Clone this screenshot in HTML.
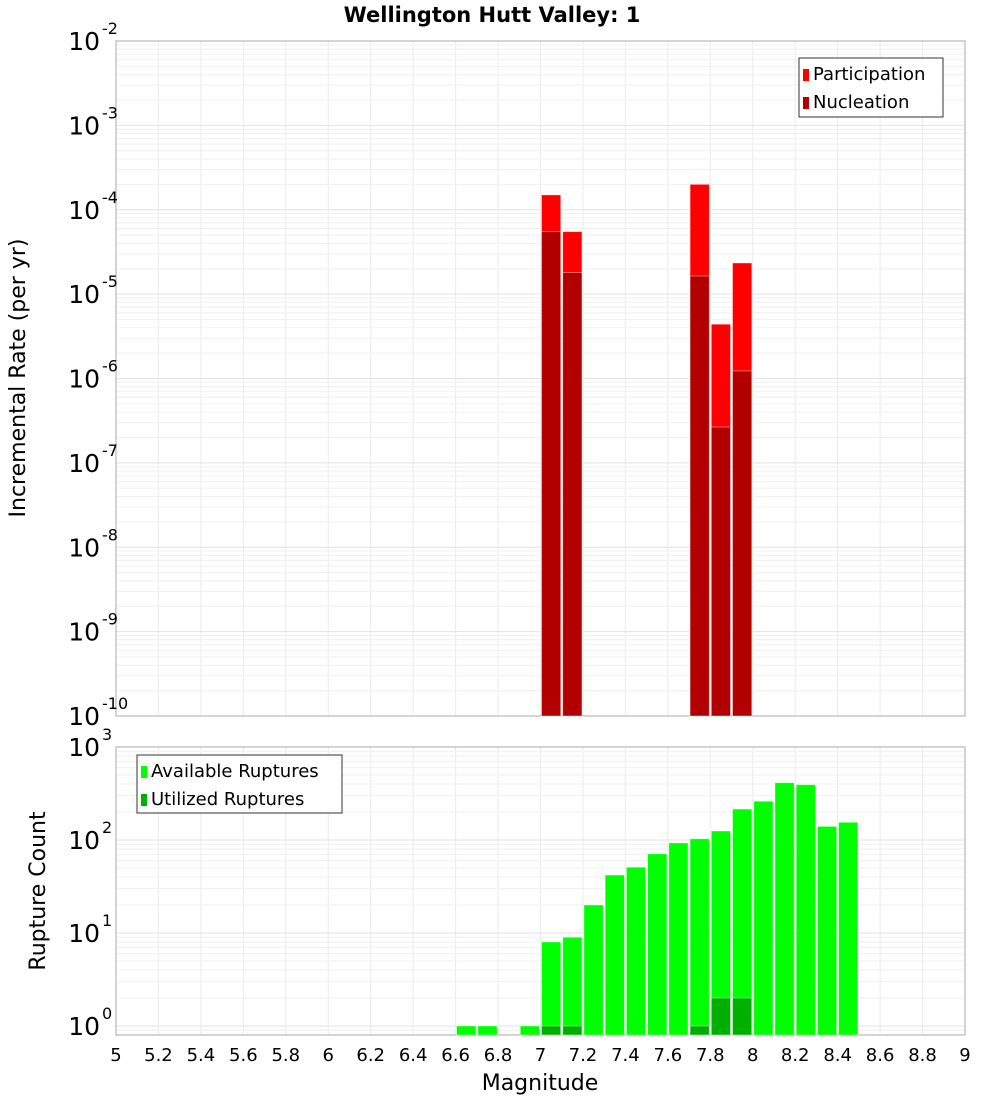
<!DOCTYPE html>
<html><head><meta charset="utf-8"><style>
body{margin:0;background:#fff;font-family:"Liberation Sans","DejaVu Sans",sans-serif}
svg text{font-family:"DejaVu Sans","Liberation Sans",sans-serif}
</style></head><body>
<svg id="chart" width="1000" height="1100" xmlns="http://www.w3.org/2000/svg">
<rect width="1000" height="1100" fill="#fff"/>
<text x="492" y="22" text-anchor="middle" font-size="21" font-weight="bold">Wellington Hutt Valley: 1</text>
<g id="topg"></g><g id="botg"></g>
</svg>
<script>
const bins=[6.65,6.75,6.95,7.05,7.15,7.25,7.35,7.45,7.55,7.65,7.75,7.85,7.95,8.05,8.15,8.25,8.35,8.45];
const rateBins=[7.05,7.15,7.75,7.85,7.95];
const participation=[1.5e-4,5.5e-5,2.0e-4,4.4e-6,2.34e-5];
const nucleation=[5.5e-5,1.8e-5,1.64e-5,2.66e-7,1.23e-6];
const available=[1,1,1,8,9,20,42,51,71,93,103,125,215,261,413,393,140,155];
const utilBins=[7.05,7.15,7.75,7.85,7.95];
const utilized=[1,1,1,2,2];
const xTicks=["5","5.2","5.4","5.6","5.8","6","6.2","6.4","6.6","6.8","7","7.2","7.4","7.6","7.8","8","8.2","8.4","8.6","8.8","9"];
const NS="http://www.w3.org/2000/svg";
const X0=116,X1=965;
const xs=m=>X0+(m-5)/4*(X1-X0);
const T={y0:41,y1:716,lmin:-10,lmax:-2};
const B={y0:747,y1:1035,lmin:Math.log10(0.8),lmax:3};
const ys=(P,v)=>P.y1-(Math.log10(v)-P.lmin)/(P.lmax-P.lmin)*(P.y1-P.y0);
function mk(par,tag,at){const e=document.createElementNS(NS,tag);for(const k in at)e.setAttribute(k,at[k]);par.appendChild(e);return e;}
function panel(g,P,name){
  for(const t of xTicks){const x=xs(+t);
    const l=mk(g,'line',{x1:x,x2:x,y1:P.y0,y2:P.y1,stroke:'#ebebeb'});
    
    }
  for(let d=Math.floor(P.lmin);d<P.lmax;d++){for(let k=1;k<10;k++){const v=k*Math.pow(10,d);const lv=Math.log10(v);
    if(lv<P.lmin||lv>P.lmax)continue;const y=ys(P,v);
    const l=mk(g,'line',{x1:X0,x2:X1,y1:y,y2:y,stroke:k==1?'#e2e2e2':'#efefef'});
    
    }}
  const r=mk(g,'rect',{x:X0,y:P.y0,width:X1-X0,height:P.y1-P.y0,fill:'none',stroke:'#aaa'});
  
  
  for(let d=Math.ceil(P.lmin);d<=P.lmax;d++){const y=ys(P,Math.pow(10,d));
    const t=mk(g,'text',{x:100,y:y+9,'text-anchor':'end','font-size':25});
    
    
    t.textContent='10';
    const s=mk(g,'text',{x:102,y:y-7,'font-size':16});
    
    
    s.textContent=String(d);}
}
function bar(g,m,v,P,fill,name){const x=xs(m-0.05)+1,w=xs(m+0.05)-xs(m-0.05)-2,y=ys(P,v);
  const r=mk(g,'rect',{x:x,y:y,width:w,height:P.y1-y,fill:fill,stroke:'#fff','stroke-opacity':0.5,'stroke-width':0.8});
  
  }
const topG=document.getElementById('topg'),botG=document.getElementById('botg');
panel(topG,T,'rate');panel(botG,B,'count');
rateBins.forEach((m,i)=>bar(topG,m,participation[i],T,'#ff0000','participation-bar'));
rateBins.forEach((m,i)=>bar(topG,m,nucleation[i],T,'#b20000','nucleation-bar'));
bins.forEach((m,i)=>bar(botG,m,available[i],B,'#00ff00','available-bar'));
utilBins.forEach((m,i)=>bar(botG,m,utilized[i],B,'#00b000','utilized-bar'));
xTicks.forEach(t=>{const e=mk(botG,'text',{x:xs(+t),y:1061,'text-anchor':'middle','font-size':18});
  
  
  e.textContent=t;});
function label(g,txt,at,name){const e=mk(g,'text',at);e.textContent=txt;}
label(botG,'Magnitude',{x:540,y:1090,'text-anchor':'middle','font-size':22},'x-axis-title');
label(topG,'Incremental Rate (per yr)',{x:0,y:0,'text-anchor':'middle','font-size':22,transform:'translate(25,378) rotate(-90)'},'rate-y-axis-title');
label(botG,'Rupture Count',{x:0,y:0,'text-anchor':'middle','font-size':22,transform:'translate(45,891) rotate(-90)'},'count-y-axis-title');
function legend(g,x,y,w,h,items,name){const r=mk(g,'rect',{x:x,y:y,width:w,height:h,fill:'#fff',stroke:'#333'});
  
  
  items.forEach((it,i)=>{const s=mk(g,'rect',{x:x+4,y:y+11+i*28,width:6,height:12,fill:it[1]});
    
    
    label(g,it[0],{x:x+14,y:y+22+i*28,'font-size':18},name+'-entry');});}
legend(topG,799,58,144,59,[['Participation','#ff0000'],['Nucleation','#b20000']],'rate-legend');
legend(botG,137,755,205,58,[['Available Ruptures','#00ff00'],['Utilized Ruptures','#00b000']],'count-legend');
</script>
</body></html>
